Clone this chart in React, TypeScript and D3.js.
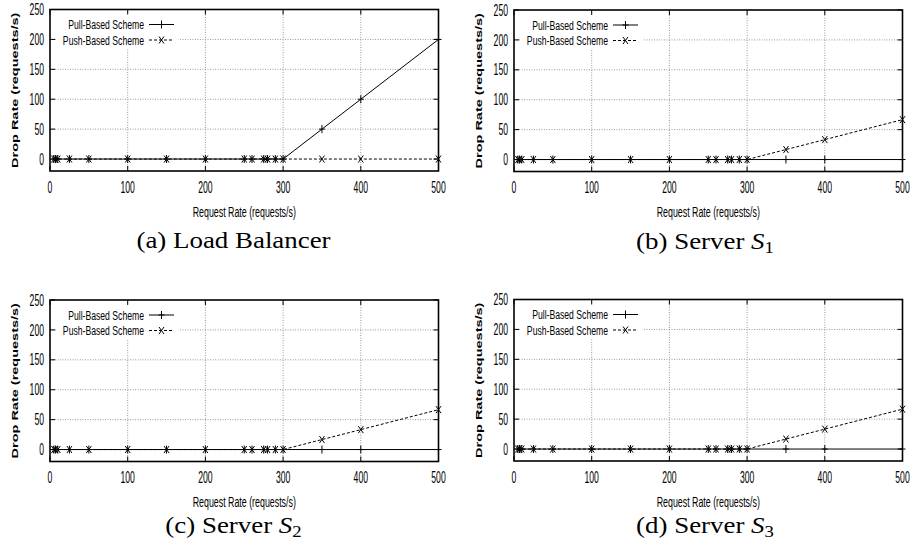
import React from 'react';
import * as d3 from 'd3';

const requestRates = [5, 7, 10, 25, 50, 100, 150, 200, 250, 260, 275, 280, 290, 300, 350, 400, 500];

const lbPull = [0, 0, 0, 0, 0, 0, 0, 0, 0, 0, 0, 0, 0, 0, 50, 100, 200];
const lbPush = [0, 0, 0, 0, 0, 0, 0, 0, 0, 0, 0, 0, 0, 0, 0, 0, 0];
const serverPull = [0, 0, 0, 0, 0, 0, 0, 0, 0, 0, 0, 0, 0, 0, 0, 0, 0];
const serverPush = [0, 0, 0, 0, 0, 0, 0, 0, 0, 0, 0, 0, 0, 0, 16.7, 33.3, 66.7];

const xTicks = [0, 100, 200, 300, 400, 500];
const yTicks = [0, 50, 100, 150, 200, 250];
const seriesNames = ['Pull-Based Scheme', 'Push-Based Scheme'];

const settings = {
  width: 388.5,
  height: 161.5,
  font: '"Liberation Sans", Arial, sans-serif'
};

const panels = [
  { x: 50, y: 9.5, capX: 183.5, capY: 77, tag: '(a)', name: 'Load Balancer', sub: null, pull: lbPull, push: lbPush },
  { x: 514, y: 10, capX: 191, capY: 77, tag: '(b)', name: 'Server', sub: '1', pull: serverPull, push: serverPush },
  { x: 50, y: 300, capX: 183.5, capY: 71, tag: '(c)', name: 'Server', sub: '2', pull: serverPull, push: serverPush },
  { x: 514, y: 299.5, capX: 191, capY: 71.5, tag: '(d)', name: 'Server', sub: '3', pull: serverPull, push: serverPush }
];

// gnuplot text came out squeezed sideways in the original figure
function Squeezed({ x, y, anchor, size, squeeze, rotate, bold, children }: any) {
  const t = `translate(${x},${y}) scale(${squeeze},1)` + (rotate ? ` rotate(${rotate})` : '');
  return (
    <text
      transform={t} textAnchor={anchor} fontSize={size} fontFamily={settings.font}
      fontWeight={bold ? 'bold' : 'normal'} dominantBaseline="central"
    >
      {children}
    </text>
  );
}

function plusPath(x: number, y: number) {
  return `M${x - 3},${y}H${x + 3}M${x},${y - 4}V${y + 4}`;
}

function crossPath(x: number, y: number) {
  return `M${x - 2.5},${y - 3.5}L${x + 2.5},${y + 3.5}M${x - 2.5},${y + 3.5}L${x + 2.5},${y - 3.5}`;
}

function Panel({ p }: any) {
  const { width, height } = settings;
  const xScale = d3.scaleLinear().domain([0, 500]).range([0, width]);
  const yScale = d3.scaleLinear().domain([-20, 250]).range([height, 0]);
  const line = d3.line<number>()
    .x((d, i) => xScale(requestRates[i]))
    .y(d => yScale(d));

  return (
    <g transform={`translate(${p.x},${p.y})`}>
      {/* grid */}
      <g stroke="#999" strokeWidth={1} strokeDasharray="1,1.5">
        {yTicks.filter(t => t > 0 && t < 250).map(t => (
          <line key={'gy' + t} x1={0} x2={width} y1={yScale(t)} y2={yScale(t)} />
        ))}
        {xTicks.filter(t => t > 0 && t < 500).map(t => (
          <line key={'gx' + t} x1={xScale(t)} x2={xScale(t)} y1={0} y2={height} />
        ))}
      </g>
      {/* key box hides grid */}
      <rect x={6} y={3} width={123} height={36} fill="#fff" />

      {/* series */}
      <path d={line(p.pull) || ''} fill="none" stroke="#000" strokeWidth={1} />
      <path d={line(p.push) || ''} fill="none" stroke="#000" strokeWidth={1} strokeDasharray="3,2" />
      <path
        d={p.pull.map((d: number, i: number) => plusPath(xScale(requestRates[i]), yScale(d))).join('')}
        stroke="#000" strokeWidth={1} fill="none"
      />
      <path
        d={p.push.map((d: number, i: number) => crossPath(xScale(requestRates[i]), yScale(d))).join('')}
        stroke="#000" strokeWidth={1} fill="none"
      />

      {/* key */}
      <Squeezed x={94} y={15} anchor="end" size={13.5} squeeze={0.64}>{seriesNames[0]}</Squeezed>
      <Squeezed x={94} y={30.5} anchor="end" size={13.5} squeeze={0.64}>{seriesNames[1]}</Squeezed>
      <line x1={99} x2={124} y1={15} y2={15} stroke="#000" strokeWidth={1} />
      <path d={plusPath(111.5, 15)} stroke="#000" strokeWidth={1} />
      <line x1={99} x2={124} y1={30.5} y2={30.5} stroke="#000" strokeWidth={1} strokeDasharray="3,2" />
      <path d={crossPath(111.5, 30.5)} stroke="#000" strokeWidth={1} />

      {/* border and mirrored ticks */}
      <g stroke="#000" strokeWidth={1}>
        {yTicks.map(t => (
          <g key={'ty' + t}>
            <line x1={0} x2={5} y1={yScale(t)} y2={yScale(t)} />
            <line x1={width - 5} x2={width} y1={yScale(t)} y2={yScale(t)} />
          </g>
        ))}
        {xTicks.map(t => (
          <g key={'tx' + t}>
            <line x1={xScale(t)} x2={xScale(t)} y1={height} y2={height - 5} />
            <line x1={xScale(t)} x2={xScale(t)} y1={0} y2={5} />
          </g>
        ))}
      </g>
      <rect x={0} y={0} width={width} height={height} fill="none" stroke="#000" strokeWidth={1.6} />

      {/* tick labels */}
      {yTicks.map(t => (
        <Squeezed key={'ly' + t} x={-6} y={yScale(t)} anchor="end" size={16} squeeze={0.54}>{t}</Squeezed>
      ))}
      {xTicks.map(t => (
        <Squeezed key={'lx' + t} x={xScale(t)} y={height + 16} anchor="middle" size={16} squeeze={0.54}>{t}</Squeezed>
      ))}

      {/* axis titles */}
      <Squeezed x={width / 2} y={height + 41} anchor="middle" size={14.5} squeeze={0.61}>Request Rate (requests/s)</Squeezed>
      <Squeezed x={-35} y={height / 2} anchor="middle" size={14.5} squeeze={0.62} rotate={-90} bold>
        Drop Rate (requests/s)
      </Squeezed>

      {/* caption */}
      <text
        transform={`translate(${p.capX},${height + p.capY}) scale(1.17,1)`} textAnchor="middle"
        fontFamily='"Liberation Serif", "Times New Roman", serif' fontSize={23}
      >
        {p.tag} {p.name}
        {p.sub && <tspan fontStyle="italic"> S</tspan>}
        {p.sub && <tspan fontSize={16} dy={4}>{p.sub}</tspan>}
      </text>
    </g>
  );
}

export default function App() {
  return (
    <svg width={913} height={546} style={{ position: 'absolute', left: 0, top: 0, background: '#fff' }}>
      {panels.map(p => <Panel key={p.tag} p={p} />)}
    </svg>
  );
}
